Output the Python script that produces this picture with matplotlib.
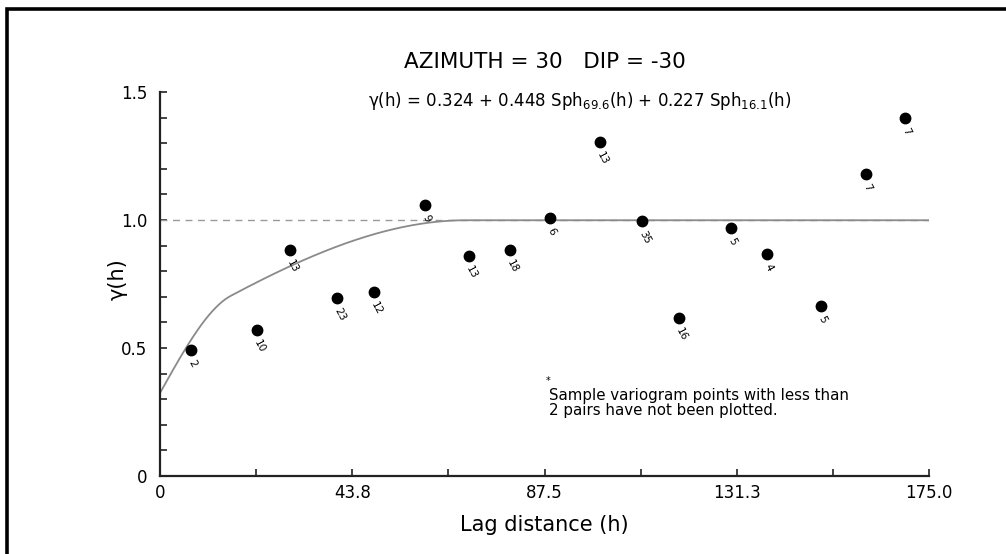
import numpy as np
import matplotlib
matplotlib.use("Agg")
import matplotlib.pyplot as plt
from matplotlib.patches import Rectangle

plt.rcParams['font.family'] = ['DejaVu Sans']
plt.rcParams['mathtext.fontset'] = 'dejavusans'

# Sample variogram points
lag = [7.05, 22.1, 29.6, 40.3, 48.7, 60.3, 70.3, 79.6, 88.8, 100.1, 109.7, 118.1, 129.9, 138.1, 150.4, 160.7, 169.5]
gamma = [0.492, 0.570, 0.883, 0.695, 0.719, 1.059, 0.859, 0.883, 1.008, 1.305, 0.996, 0.617, 0.969, 0.867, 0.664, 1.180, 1.398]
pairs = ["2", "10", "13", "23", "12", "9", "13", "18", "6", "13", "35", "16", "5", "4", "5", "7", "7"]

# Model parameters
nugget = 0.324
c1, a1 = 0.448, 69.6
c2, a2 = 0.227, 16.1
sill = 1.0

xticks = [0, 43.75, 87.5, 131.25, 175.0]
xticklabels = ["0", "43.8", "87.5", "131.3", "175.0"]
yticks = [0, 0.5, 1.0, 1.5]
yticklabels = ["0", "0.5", "1.0", "1.5"]


def sph(h, a):
    r = np.minimum(h / a, 1.0)
    return 1.5 * r - 0.5 * r ** 3


fig = plt.figure(figsize=(10.06, 5.54), dpi=100)
fig.patch.set_facecolor('white')
# figure frame
fig.add_artist(Rectangle((6.5 / 1006, -0.05), 1.2, 1 - 8.5 / 554 + 0.05,
                         transform=fig.transFigure, fill=False, edgecolor='black',
                         linewidth=2.6, clip_on=False))

ax = fig.add_axes([160 / 1006, (554 - 476) / 554, (929 - 160) / 1006, (476 - 92) / 554])
ax.set_xlim(0, 175)
ax.set_ylim(0, 1.5)

h = np.linspace(0, 175, 600)
model = nugget + c1 * sph(h, a1) + c2 * sph(h, a2)
ax.axhline(sill, color='#9a9a9a', linestyle=(0, (5, 4)), linewidth=1.0)
ax.plot(h, model, color='#8a8a8a', linewidth=1.3)

ax.plot(lag, gamma, 'o', color='black', markersize=7.5, zorder=5)
for x, y, p in zip(lag, gamma, pairs):
    ax.annotate(p, (x, y), xytext=(3, -6), textcoords='offset points',
                rotation=-62, fontsize=7.5, ha='left', va='top',
                rotation_mode='anchor')

for s in ['top', 'right']:
    ax.spines[s].set_visible(False)
for s in ['left', 'bottom']:
    ax.spines[s].set_linewidth(1.6)
    ax.spines[s].set_color('#222222')

ax.set_xticks(xticks)
ax.set_xticklabels(xticklabels)
ax.set_xticks(np.arange(0, 175.01, 21.875), minor=True)
ax.set_yticks(yticks)
ax.set_yticklabels(yticklabels)
ax.set_yticks(np.arange(0, 1.501, 0.1), minor=True)
ax.tick_params(which='both', direction='in', length=5, width=1.2, labelsize=12, color='#222222')
ax.tick_params(axis='x', pad=6)
ax.tick_params(axis='y', pad=9)

ax.set_xlabel("Lag distance (h)", fontsize=15, labelpad=9)
ax.set_ylabel("γ(h)", fontsize=15)
ax.yaxis.set_label_coords(-0.042, 0.513)

fig.text(545 / 1006, 1 - 62 / 554, "AZIMUTH = 30   DIP = -30", ha='center', va='center', fontsize=15.5)
fig.text(580 / 1006, 1 - 101 / 554,
         r"γ(h) = 0.324 + 0.448 Sph$_{69.6}$(h) + 0.227 Sph$_{16.1}$(h)",
         ha='center', va='center', fontsize=12)

fig.text(546 / 1006, 1 - 381 / 554, "*", fontsize=7, ha='left', va='center')
fig.text(549 / 1006, 1 - 403 / 554,
         "Sample variogram points with less than\n2 pairs have not been plotted.",
         fontsize=10.8, ha='left', va='center', linespacing=1.0)

fig.savefig("out.png", dpi=100, facecolor='white')
